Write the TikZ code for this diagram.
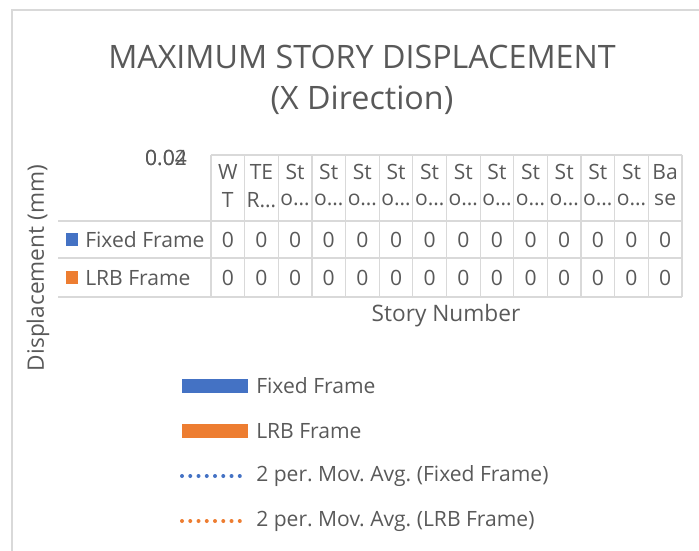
\documentclass[tikz,border=0pt]{standalone}
\usepackage{fontspec}
\setmainfont{Open Sans}
\usetikzlibrary{calc}
\definecolor{ink}{HTML}{595959}
\definecolor{grid}{HTML}{D9D9D9}
\definecolor{fixedc}{HTML}{4472C4}
\definecolor{lrbc}{HTML}{ED7D31}
\tikzset{
  ttl/.style={text=ink, font=\fontsize{24.2}{27}\selectfont, inner sep=0pt},
  axt/.style={text=ink, font=\fontsize{17}{19}\selectfont, inner sep=0pt},
  lab/.style={text=ink, font=\fontsize{15.8}{17}\selectfont, inner sep=0pt},
  gridln/.style={draw=grid, line width=0.9pt},
  frameln/.style={draw=grid, line width=1.4pt},
  mavg/.style={line width=3pt, line cap=round, dash pattern=on 0pt off 6.19pt},
}

\begin{document}
\frenchspacing
\begin{tikzpicture}[x=0.75pt,y=-0.75pt]
  \useasboundingbox (0,0) rectangle (699,550);
  \clip (0,0) rectangle (699,550);
  \def\cw{33.64}
  \def\xo{211}

  % chart area border
  \draw[frameln] (12,560) -- (12,10) -- (710,10);

  % title
  \node[ttl] (t1) at (362,57) {MAXIMUM STORY DISPLACEMENT};
  \node[ttl] (t2) at (362,100) {(X Direction)};

  % axis labels
  \node[lab] (y1) at (166,158) {0.02};
  \node[lab] (y2) at (166,158) {0.04};
  \node[axt, rotate=90] (ytitle) at (38,268) {Displacement (mm)};
  \node[axt] (xtitle) at (446,316) {Story Number};

  % data table grid
  \draw[gridln] (\xo,155) -- ({\xo+14*\cw},155);
  \foreach \y in {221,258,297}
    \draw[gridln] (58,\y) -- ({\xo+14*\cw},\y);
  \foreach \k in {0,...,14}
    \draw[gridln] ({\xo+\k*\cw},155) -- ({\xo+\k*\cw},297);

  % column headers
  \foreach \a/\b [count=\k] in {W/T,TE/R…,St/o…,St/o…,St/o…,St/o…,St/o…,St/o…,
                                St/o…,St/o…,St/o…,St/o…,St/o…,Ba/se} {
    \node[lab] (h\k a) at ({\xo+(\k-0.5)*\cw},172) {\a};
    \node[lab] (h\k b) at ({\xo+(\k-0.5)*\cw},200) {\b};
    \node[lab] (f\k) at ({\xo+(\k-0.5)*\cw},240) {0};
    \node[lab] (r\k) at ({\xo+(\k-0.5)*\cw},278) {0};
  }

  % row keys
  \fill[fixedc] (66,233) rectangle (78,246);
  \fill[lrbc] (66,271) rectangle (78,284);
  \node[lab, anchor=west] (rowf) at (85,240) {Fixed Frame};
  \node[lab, anchor=west] (rowl) at (85,278) {LRB Frame};

  % legend
  \fill[fixedc] (182,379) rectangle (248,393);
  \fill[lrbc] (182,424) rectangle (248,438);
  \draw[mavg, fixedc] (182,476) -- (248,476);
  \draw[mavg, lrbc] (182,521) -- (248,521);
  \node[lab, anchor=west] (lg1) at (256,386) {Fixed Frame};
  \node[lab, anchor=west] (lg2) at (256,431) {LRB Frame};
  \node[lab, anchor=west] (lg3) at (256,476) {2 per. Mov. Avg. (Fixed Frame)};
  \node[lab, anchor=west] (lg4) at (256,521) {2 per. Mov. Avg. (LRB Frame)};
\end{tikzpicture}
\end{document}
